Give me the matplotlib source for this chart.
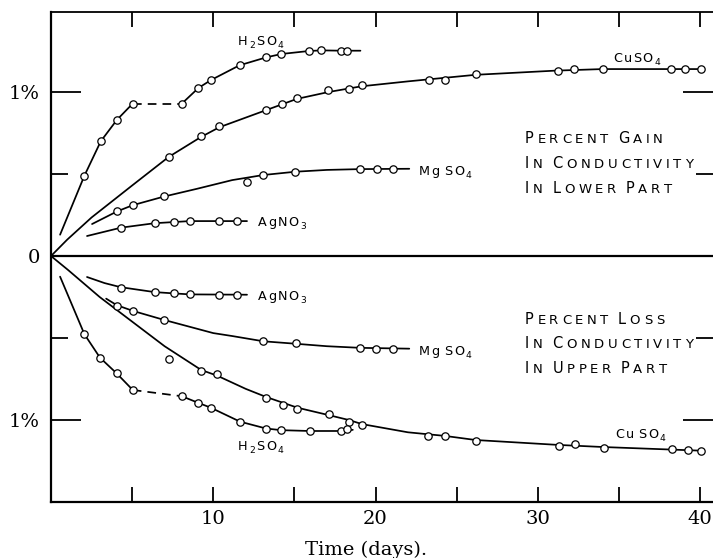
import matplotlib
matplotlib.use('Agg')
import matplotlib.pyplot as plt

# ---------------- data: time (days) vs percent change in conductivity ----------------
# gain in lower part (positive), loss in upper part (negative)
h2so4_gain_days = [2.06, 3.07, 4.06, 5.04, 8.07, 9.09, 9.86, 11.62, 13.25, 14.2, 15.88, 16.67, 17.9, 18.25]
h2so4_gain_pct = [0.49, 0.70, 0.83, 0.93, 0.93, 1.025, 1.073, 1.163, 1.211, 1.232, 1.25, 1.256, 1.25, 1.25]

cuso4_gain_days = [7.25, 9.23, 10.37, 13.27, 14.26, 15.15, 17.1, 18.36, 19.14, 23.27, 24.26, 26.17,
                   31.23, 32.25, 34.04, 38.2, 39.1, 40.06]
cuso4_gain_pct = [0.604, 0.73, 0.79, 0.89, 0.93, 0.963, 1.01, 1.02, 1.04, 1.073, 1.073, 1.11,
                  1.13, 1.138, 1.14, 1.14, 1.14, 1.14]

mgso4_gain_days = [4.07, 5.04, 6.94, 12.1, 13.09, 15.06, 19.07, 20.09, 21.05]
mgso4_gain_pct = [0.276, 0.311, 0.363, 0.45, 0.494, 0.514, 0.53, 0.53, 0.53]

agno3_gain_days = [4.32, 6.38, 7.56, 8.55, 10.38, 11.46]
agno3_gain_pct = [0.173, 0.2, 0.207, 0.213, 0.213, 0.213]

agno3_loss_days = [4.29, 6.38, 7.58, 8.57, 10.36, 11.46]
agno3_loss_pct = [-0.195, -0.22, -0.228, -0.234, -0.236, -0.236]

mgso4_loss_days = [4.06, 5.06, 6.98, 13.09, 15.08, 19.07, 20.06, 21.09]
mgso4_loss_pct = [-0.305, -0.335, -0.39, -0.52, -0.53, -0.56, -0.567, -0.567]

cuso4_loss_days = [7.25, 9.26, 10.25, 13.27, 14.28, 15.19, 17.11, 18.36, 19.17, 23.25, 24.28, 26.17,
                   31.28, 32.28, 34.09, 38.25, 39.24, 40.06]
cuso4_loss_pct = [-0.63, -0.70, -0.72, -0.865, -0.907, -0.93, -0.963, -1.014, -1.03, -1.095, -1.095, -1.127,
                  -1.157, -1.148, -1.169, -1.178, -1.182, -1.189]

h2so4_loss_days = [2.06, 3.02, 4.04, 5.04, 8.06, 9.07, 9.85, 11.65, 13.26, 14.2, 15.94, 17.87, 18.27]
h2so4_loss_pct = [-0.477, -0.62, -0.715, -0.817, -0.855, -0.895, -0.925, -1.01, -1.055, -1.063, -1.067, -1.067, -1.057]

# ---------------- hand-drawn curves (vertices) ----------------
h2so4_gain_curve1_days = [0.56, 2.06, 3.07, 4.06, 5.04]
h2so4_gain_curve1_pct = [0.13, 0.49, 0.70, 0.83, 0.93]
h2so4_gain_gap_days = [5.04, 8.07]
h2so4_gain_gap_pct = [0.93, 0.93]
h2so4_gain_curve2_days = [8.07, 9.09, 9.86, 11.62, 13.25, 14.2, 15.88, 16.67, 17.9, 19.07]
h2so4_gain_curve2_pct = [0.93, 1.025, 1.073, 1.163, 1.211, 1.232, 1.25, 1.254, 1.252, 1.252]

cuso4_gain_curve_days = [0, 1, 2.5, 5, 7.25, 9.23, 10.37, 13.27, 15.15, 17.1, 19.14, 22, 26.17, 31, 34, 40.06]
cuso4_gain_curve_pct = [0, 0.1, 0.235, 0.43, 0.604, 0.725, 0.785, 0.89, 0.958, 1.0, 1.035, 1.065, 1.105, 1.13, 1.14, 1.14]

mgso4_gain_curve_days = [2.53, 4.07, 5.04, 6.94, 9.0, 11.17, 13.09, 15.06, 17.0, 19.07, 22.08]
mgso4_gain_curve_pct = [0.195, 0.272, 0.31, 0.362, 0.41, 0.463, 0.494, 0.514, 0.525, 0.53, 0.532]

agno3_gain_curve_days = [2.22, 4.32, 6.38, 7.56, 8.55, 12.08]
agno3_gain_curve_pct = [0.122, 0.173, 0.2, 0.207, 0.213, 0.213]

agno3_loss_curve_days = [2.22, 3.3, 4.29, 6.38, 7.58, 8.57, 12.08]
agno3_loss_curve_pct = [-0.128, -0.165, -0.19, -0.22, -0.228, -0.234, -0.236]

mgso4_loss_curve_days = [3.4, 4.06, 5.06, 6.98, 10.0, 11.17, 13.09, 15.08, 17.0, 19.07, 22.08]
mgso4_loss_curve_pct = [-0.26, -0.3, -0.335, -0.39, -0.47, -0.488, -0.52, -0.535, -0.55, -0.56, -0.565]

cuso4_loss_curve_days = [0, 1.05, 3.0, 5.0, 7.0, 9.26, 10.25, 12.0, 13.27, 15.19, 17.11, 18.36, 19.17,
                         22.0, 24.28, 26.17, 31.28, 34.09, 40.06]
cuso4_loss_curve_pct = [0, -0.085, -0.25, -0.40, -0.55, -0.695, -0.73, -0.81, -0.86, -0.925, -0.97, -1.0, -1.025,
                        -1.075, -1.097, -1.122, -1.152, -1.165, -1.187]

h2so4_loss_curve1_days = [0.56, 2.06, 3.02, 4.04, 5.04]
h2so4_loss_curve1_pct = [-0.126, -0.477, -0.62, -0.715, -0.817]
h2so4_loss_gap_days = [5.04, 8.06]
h2so4_loss_gap_pct = [-0.817, -0.855]
h2so4_loss_curve2_days = [8.06, 9.07, 9.85, 11.65, 13.26, 14.2, 15.94, 17.87, 18.6]
h2so4_loss_curve2_pct = [-0.855, -0.895, -0.925, -1.01, -1.052, -1.062, -1.067, -1.067, -1.06]

x_major_ticks = [10, 20, 30, 40]
x_major_labels = ['10', '20', '30', '40']
x_minor_ticks = [5, 15, 25, 35]
y_major_ticks = [-1, 0, 1]
y_major_labels = ['1%', '0', '1%']
y_minor_ticks = [-0.5, 0.5]

# ---------------- figure ----------------
plt.rcParams['font.family'] = 'DejaVu Serif'
W, H = 713, 558
fig = plt.figure(figsize=(W / 100, H / 100), dpi=100)
ax = fig.add_axes([51 / W, 56 / H, 662 / W, 490 / H])
ax.set_xlim(0, 40.8)
ax.set_ylim(-1.5, 1.488)

LINE = dict(color='black', lw=1.25, solid_capstyle='round', zorder=2)
DASH = dict(color='black', lw=1.25, dashes=(5, 3.5), zorder=2)
MARK = dict(ls='none', marker='o', ms=5.3, mfc='white', mec='black', mew=0.9, zorder=3)

curves = [
    (h2so4_gain_curve1_days, h2so4_gain_curve1_pct), (h2so4_gain_curve2_days, h2so4_gain_curve2_pct),
    (cuso4_gain_curve_days, cuso4_gain_curve_pct), (mgso4_gain_curve_days, mgso4_gain_curve_pct),
    (agno3_gain_curve_days, agno3_gain_curve_pct), (agno3_loss_curve_days, agno3_loss_curve_pct),
    (mgso4_loss_curve_days, mgso4_loss_curve_pct), (cuso4_loss_curve_days, cuso4_loss_curve_pct),
    (h2so4_loss_curve1_days, h2so4_loss_curve1_pct), (h2so4_loss_curve2_days, h2so4_loss_curve2_pct),
]
for xs, ys in curves:
    ax.plot(xs, ys, **LINE)
ax.plot(h2so4_gain_gap_days, h2so4_gain_gap_pct, **DASH)
ax.plot(h2so4_loss_gap_days, h2so4_loss_gap_pct, **DASH)

points = [
    (h2so4_gain_days, h2so4_gain_pct), (cuso4_gain_days, cuso4_gain_pct),
    (mgso4_gain_days, mgso4_gain_pct), (agno3_gain_days, agno3_gain_pct),
    (agno3_loss_days, agno3_loss_pct), (mgso4_loss_days, mgso4_loss_pct),
    (cuso4_loss_days, cuso4_loss_pct), (h2so4_loss_days, h2so4_loss_pct),
]
for xs, ys in points:
    ax.plot(xs, ys, **MARK)

ax.axhline(0, color='black', lw=1.6, zorder=1)

# spines & ticks
ax.spines['right'].set_visible(False)
for s in ('left', 'bottom'):
    ax.spines[s].set_linewidth(1.6)
ax.spines['top'].set_linewidth(1.3)

ax.set_xticks(x_major_ticks)
ax.set_xticklabels(x_major_labels)
ax.set_xticks(x_minor_ticks, minor=True)
ax.tick_params(axis='x', which='both', direction='in', top=True, bottom=True,
               length=11, width=1.3, labelsize=14, pad=6)
ax.set_yticks(y_major_ticks)
ax.set_yticklabels(y_major_labels)
ax.set_yticks(y_minor_ticks, minor=True)
ax.tick_params(axis='y', which='major', direction='in', left=True, right=True,
               length=21.5, width=1.3, labelsize=14, pad=8)
ax.tick_params(axis='y', which='minor', direction='in', left=True, right=True,
               length=12, width=1.3)

fig.text(366 / W, 3 / H, 'Time (days).', ha='center', va='baseline', fontsize=14,
         family='DejaVu Serif')


# ---------------- lettering (spaced sans-serif, small caps / subscripts) ----------------
def lettered(x_px, y_px, text, big, small=None, track=1.5, space=4.0, sub_digits=False):
    """Place letters one by one; x_px,y_px = left/baseline in reference pixel coords (top-down)."""
    yb = H - y_px
    prev = None
    gap = 0.0
    new_word = True
    for ch in text:
        if ch == ' ':
            gap += space
            new_word = True
            continue
        size = big if (small is None or new_word) else small
        dy = 0.0
        if sub_digits and ch.isdigit():
            size = big * 0.72
            dy = -2.2
        kw = dict(fontsize=size, ha='left', va='baseline', family='DejaVu Sans',
                  textcoords='offset points', annotation_clip=False)
        if prev is None:
            t = ax.annotate(ch, xy=(x_px, yb), xycoords='figure pixels', xytext=(0, dy), **kw)
        else:
            t = ax.annotate(ch, xy=(1, yb), xycoords=(prev, 'figure pixels'),
                            xytext=(track + gap, dy), **kw)
        prev = t
        gap = 0.0
        new_word = False


# block captions
for txt, y in [('PERCENT GAIN', 143), ('IN CONDUCTIVITY', 168), ('IN LOWER PART', 193),
               ('PERCENT LOSS', 324), ('IN CONDUCTIVITY', 348), ('IN UPPER PART', 373)]:
    lettered(525, y, txt, big=10.5, small=9.5, track=2.6, space=4.5)

# series labels
CHEM = dict(big=9.2, track=1.0, space=2.5, sub_digits=True)
lettered(238, 45, 'H2SO4', **CHEM)
lettered(613, 62, 'CuSO4', **CHEM)
lettered(419, 175, 'Mg SO4', **CHEM)
lettered(258, 226, 'AgNO3', **CHEM)
lettered(258, 300, 'AgNO3', **CHEM)
lettered(419, 355, 'Mg SO4', **CHEM)
lettered(615, 438, 'Cu SO4', **CHEM)
lettered(238, 450, 'H2SO4', **CHEM)

fig.savefig('out.png', dpi=100)
